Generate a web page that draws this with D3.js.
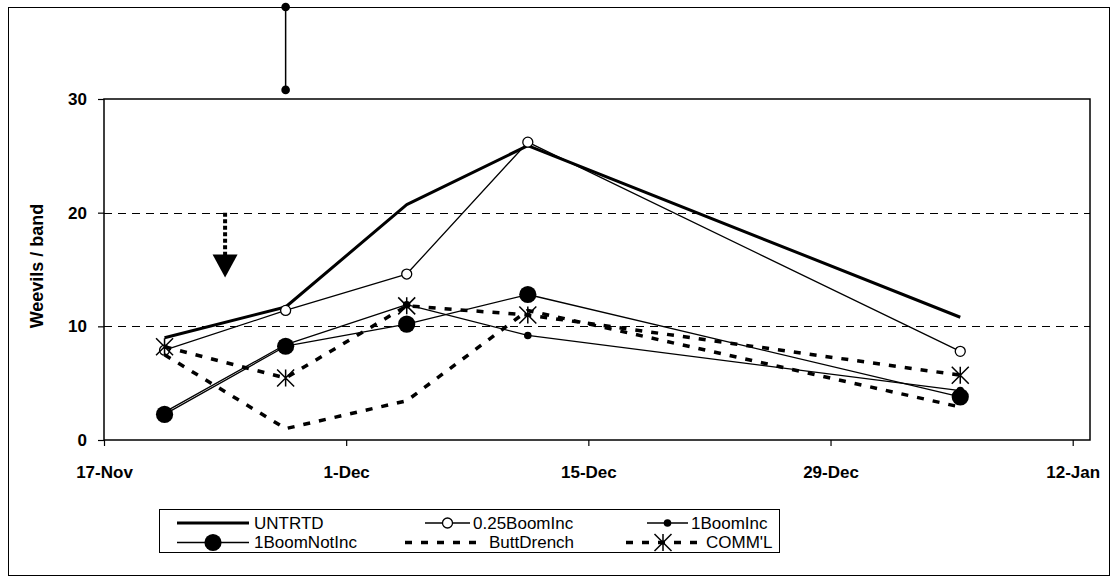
<!DOCTYPE html>
<html>
<head>
<meta charset="utf-8">
<script src="https://cdn.jsdelivr.net/npm/d3@7"></script>
<style>
  body { margin: 0; background: #fff; }
  svg { display: block; }
  text { font-family: Arial, "Liberation Sans", sans-serif; fill: #000; }
</style>
</head>
<body>
<svg id="chart" width="1117" height="582"></svg>
<script>
// Sampling dates and weevil counts per band for each treatment
const sampleDates = ["2004-11-20", "2004-11-27", "2004-12-04", "2004-12-11", "2005-01-05"];
const untrtd      = [9.0, 11.7, 20.7, 25.9, 10.8];
const boom025Inc  = [7.9, 11.4, 14.6, 26.2, 7.8];
const boom1Inc    = [2.45, 8.4, 11.9, 9.2, 4.35];
const boom1NotInc = [2.25, 8.25, 10.2, 12.8, 3.8];
const buttDrench  = [7.5, 1.0, 3.45, 11.4, 2.9];
const comml       = [8.2, 5.45, 11.8, 11.0, 5.7];
const seriesNames = ["UNTRTD", "0.25BoomInc", "1BoomInc", "1BoomNotInc", "ButtDrench", "COMM'L"];

// Axis ticks
const xTickDates = ["2004-11-17", "2004-12-01", "2004-12-15", "2004-12-29", "2005-01-12"];
const xDomain = ["2004-11-17", "2005-01-13"];
const yTicks = [0, 10, 20, 30];
const yGrid = [10, 20];

// Extra marks: the vertical bar above the plot and the treatment arrow
const spikeDate = "2004-11-27";
const spikeValues = [30.8, 38.1];
const arrowDate = "2004-11-24";
const arrowValues = [20, 14.3];

const parse = d3.utcParse("%Y-%m-%d");
const midDay = d => d3.utcHour.offset(parse(d), 12);

const svg = d3.select("#chart");
const plot = { left: 104, right: 1090, top: 99, bottom: 440 };

// Outer chart border
svg.append("rect")
  .attr("x", 8.5).attr("y", 7.5).attr("width", 1101).attr("height", 568)
  .attr("fill", "none").attr("stroke", "#000").attr("stroke-width", 1);

const x = d3.scaleUtc().domain(xDomain.map(parse)).range([plot.left, plot.right]);
const y = d3.scaleLinear().domain([0, 30]).range([plot.bottom, plot.top]);

// Gridlines
svg.append("g").selectAll("line").data(yGrid).join("line")
  .attr("x1", plot.left).attr("x2", plot.right)
  .attr("y1", d => Math.round(y(d)) + 0.5).attr("y2", d => Math.round(y(d)) + 0.5)
  .attr("stroke", "#000").attr("stroke-width", 1).attr("stroke-dasharray", "8,6");

// Plot area border
svg.append("rect")
  .attr("x", plot.left).attr("y", plot.top)
  .attr("width", plot.right - plot.left).attr("height", plot.bottom - plot.top)
  .attr("fill", "none").attr("stroke", "#000").attr("stroke-width", 1.5);

// Y axis
const yAxis = svg.append("g").attr("transform", `translate(${plot.left},0)`)
  .call(d3.axisLeft(y).tickValues(yTicks).tickSize(6).tickPadding(11).tickFormat(d3.format("d")));
yAxis.select(".domain").remove();
yAxis.selectAll("line").attr("stroke", "#000").attr("stroke-width", 1.2);
yAxis.selectAll("text").attr("font-size", 17).attr("font-weight", "bold")
  .attr("font-family", "Arial, 'Liberation Sans', sans-serif");

// X axis
const xAxis = svg.append("g").attr("transform", `translate(0,${plot.bottom})`)
  .call(d3.axisBottom(x).tickValues(xTickDates.map(parse)).tickSize(6).tickPadding(20)
    .tickFormat(d3.utcFormat("%-d-%b")));
xAxis.select(".domain").remove();
xAxis.selectAll("line").attr("stroke", "#000").attr("stroke-width", 1.2);
xAxis.selectAll("text").attr("font-size", 17).attr("font-weight", "bold")
  .attr("font-family", "Arial, 'Liberation Sans', sans-serif");

// Axis title
svg.append("text")
  .attr("transform", "translate(43,266) rotate(-90)")
  .attr("text-anchor", "middle")
  .attr("font-size", 18).attr("font-weight", "bold")
  .text("Weevils / band");

// Series definitions
const seriesValues = [untrtd, boom025Inc, boom1Inc, boom1NotInc, buttDrench, comml];
const styles = [
  { width: 3,   dash: null,  marker: null },
  { width: 1.3, dash: null,  marker: "open" },
  { width: 1.3, dash: null,  marker: "dot" },
  { width: 1.3, dash: null,  marker: "big" },
  { width: 3.5, dash: "7,9", marker: null },
  { width: 3.5, dash: "7,9", marker: "star" }
];

const series = seriesNames.map((name, i) => ({
  name,
  style: styles[i],
  points: sampleDates.map((d, j) => ({ date: midDay(d), v: seriesValues[i][j] }))
}));

const line = d3.line().x(d => x(d.date)).y(d => y(d.v));

function drawMarker(g, kind, cx, cy) {
  if (kind === "open") {
    g.append("circle").attr("cx", cx).attr("cy", cy).attr("r", 5)
      .attr("fill", "#fff").attr("stroke", "#000").attr("stroke-width", 1.3);
  } else if (kind === "dot") {
    g.append("circle").attr("cx", cx).attr("cy", cy).attr("r", 3.8).attr("fill", "#000");
  } else if (kind === "big") {
    g.append("circle").attr("cx", cx).attr("cy", cy).attr("r", 8.6).attr("fill", "#000");
  } else if (kind === "star") {
    const s = 8.5;
    g.append("path")
      .attr("d", `M${cx - s},${cy - s}L${cx + s},${cy + s}M${cx - s},${cy + s}L${cx + s},${cy - s}M${cx},${cy - s}L${cx},${cy + s}`)
      .attr("stroke", "#000").attr("stroke-width", 1.5).attr("fill", "none");
  }
}

const gSeries = svg.append("g");
series.forEach(s => {
  const g = gSeries.append("g");
  g.append("path").datum(s.points).attr("d", line)
    .attr("fill", "none").attr("stroke", "#000")
    .attr("stroke-width", s.style.width)
    .attr("stroke-dasharray", s.style.dash)
    .attr("stroke-linejoin", "round");
  if (s.style.marker) {
    s.points.forEach(p => drawMarker(g, s.style.marker, x(p.date), y(p.v)));
  }
});

// Vertical bar with end dots above the second sampling date
const spikeX = x(midDay(spikeDate));
svg.append("line")
  .attr("x1", spikeX).attr("x2", spikeX)
  .attr("y1", y(spikeValues[0])).attr("y2", y(spikeValues[1]))
  .attr("stroke", "#000").attr("stroke-width", 1.5);
svg.selectAll(".spikeDot").data(spikeValues).join("circle")
  .attr("class", "spikeDot")
  .attr("cx", spikeX).attr("cy", d => y(d)).attr("r", 4.3).attr("fill", "#000");

// Dotted arrow marking the treatment date
const ax = x(parse(arrowDate));
const tipY = y(arrowValues[1]);
const headH = 23, headW = 12.5;
svg.append("line")
  .attr("x1", ax).attr("x2", ax)
  .attr("y1", y(arrowValues[0])).attr("y2", tipY - headH + 2)
  .attr("stroke", "#000").attr("stroke-width", 4).attr("stroke-dasharray", "4,2.5");
svg.append("path")
  .attr("d", `M${ax - headW},${tipY - headH}L${ax + headW},${tipY - headH}L${ax},${tipY}Z`)
  .attr("fill", "#000");

// Legend
const legend = svg.append("g");
legend.append("rect")
  .attr("x", 159.5).attr("y", 509.5).attr("width", 620).attr("height", 43)
  .attr("fill", "#fff").attr("stroke", "#000").attr("stroke-width", 1);

const legendLayout = [
  { x1: 177, x2: 249, tx: 254, row: 0 },
  { x1: 425, x2: 470, tx: 473, row: 0 },
  { x1: 647, x2: 688, tx: 691, row: 0 },
  { x1: 177, x2: 249, tx: 254, row: 1 },
  { x1: 405, x2: 482, tx: 489, row: 1 },
  { x1: 626, x2: 700, tx: 706, row: 1 }
];
const rowY = [523, 542.5];

series.forEach((s, i) => {
  const L = legendLayout[i];
  const ly = rowY[L.row];
  legend.append("line")
    .attr("x1", L.x1).attr("x2", L.x2).attr("y1", ly).attr("y2", ly)
    .attr("stroke", "#000").attr("stroke-width", s.style.width)
    .attr("stroke-dasharray", s.style.dash);
  if (s.style.marker) drawMarker(legend, s.style.marker, (L.x1 + L.x2) / 2, ly);
  legend.append("text")
    .attr("x", L.tx).attr("y", ly).attr("dy", "0.35em")
    .attr("font-size", 17)
    .text(s.name);
});
</script>
</body>
</html>
